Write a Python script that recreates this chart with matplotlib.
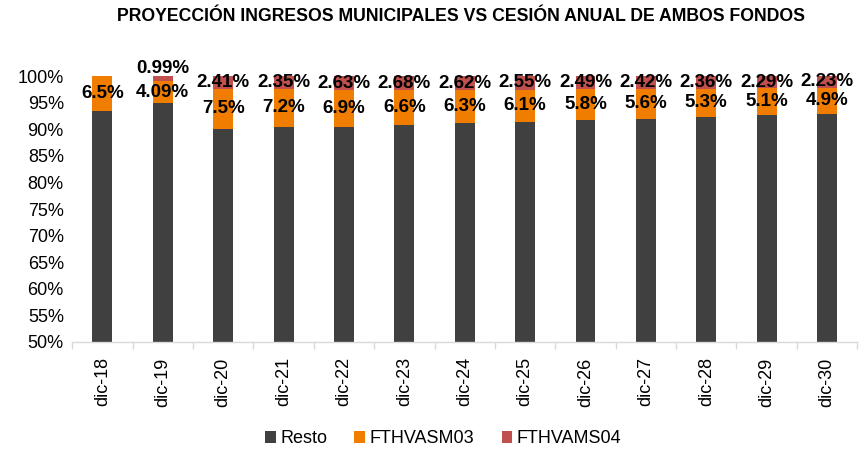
import numpy as np
import matplotlib
matplotlib.use('Agg')
import matplotlib.pyplot as plt
from matplotlib.ticker import FixedLocator, PercentFormatter

plt.rcParams.update({
    'font.family': ['Liberation Sans', 'DejaVu Sans'],
    'font.size': 13,
})

# ── Data (percent of annual municipal income) ────────────────────────────────
CATEGORIES = ['dic-18', 'dic-19', 'dic-20', 'dic-21', 'dic-22', 'dic-23', 'dic-24',
              'dic-25', 'dic-26', 'dic-27', 'dic-28', 'dic-29', 'dic-30']
RESTO = [93.5, 94.92, 90.09, 90.45, 90.47, 90.72, 91.08, 91.35, 91.71, 91.98, 92.34, 92.61, 92.87]
FTHVASM03 = [6.5, 4.09, 7.5, 7.2, 6.9, 6.6, 6.3, 6.1, 5.8, 5.6, 5.3, 5.1, 4.9]
FTHVAMS04 = [0.0, 0.99, 2.41, 2.35, 2.63, 2.68, 2.62, 2.55, 2.49, 2.42, 2.36, 2.29, 2.23]
LABELS_03 = ['6.5%', '4.09%', '7.5%', '7.2%', '6.9%', '6.6%', '6.3%', '6.1%', '5.8%',
             '5.6%', '5.3%', '5.1%', '4.9%']
LABELS_04 = ['', '0.99%', '2.41%', '2.35%', '2.63%', '2.68%', '2.62%', '2.55%', '2.49%',
             '2.42%', '2.36%', '2.29%', '2.23%']

C_RESTO = '#404040'
C_03 = '#F07D00'
C_04 = '#C0504D'

fig = plt.figure(figsize=(8.59, 4.5), dpi=100)
ax = fig.add_axes([0.084, 0.24, 0.914, 0.591])

x = np.arange(len(CATEGORIES))
w = 0.33
resto = np.array(RESTO)
f03 = np.array(FTHVASM03)
f04 = np.array(FTHVAMS04)

ax.bar(x, resto, w, color=C_RESTO, label='Resto')
ax.bar(x, f03, w, bottom=resto, color=C_03, label='FTHVASM03')
ax.bar(x, f04, w, bottom=resto + f03, color=C_04, label='FTHVAMS04')

lbl = dict(ha='center', va='center', fontsize=13.5, fontweight='bold', color='black')
for i in range(len(x)):
    ax.text(x[i], resto[i] + f03[i] / 2, LABELS_03[i], **lbl)
    if LABELS_04[i]:
        yc = resto[i] + f03[i] + f04[i] / 2
        if f04[i] < 1.5:
            yc = 101.5  # small slice: label above the bar
        ax.text(x[i], yc, LABELS_04[i], clip_on=False, **lbl)

ax.set_ylim(50, 100)
ax.set_xlim(-0.5, len(x) - 0.5)
ax.yaxis.set_major_locator(FixedLocator(np.arange(50, 101, 5)))
ax.yaxis.set_major_formatter(PercentFormatter(decimals=0))
ax.tick_params(axis='y', length=0, labelsize=13, pad=6)

ax.set_xticks(x)
ax.set_xticklabels(CATEGORIES, rotation=90, fontsize=13)
ax.tick_params(axis='x', which='major', length=0, pad=11)
ax.xaxis.set_minor_locator(FixedLocator(np.arange(-0.5, len(x), 1)))
ax.tick_params(axis='x', which='minor', length=5, color='#D9D9D9', width=1)

for s in ['top', 'right', 'left']:
    ax.spines[s].set_visible(False)
ax.spines['bottom'].set_color('#D9D9D9')
ax.spines['bottom'].set_linewidth(1)

fig.suptitle('PROYECCIÓN INGRESOS MUNICIPALES VS CESIÓN ANUAL DE AMBOS FONDOS',
             x=0.537, y=0.983, fontsize=12.7, fontweight='bold')

fig.legend(loc='lower center', bbox_to_anchor=(0.516, -0.03), ncol=3, frameon=False,
           fontsize=13, handlelength=0.6, handleheight=0.6, handletextpad=0.25,
           columnspacing=1.5)

fig.savefig('out.png', dpi=100, facecolor='white')
